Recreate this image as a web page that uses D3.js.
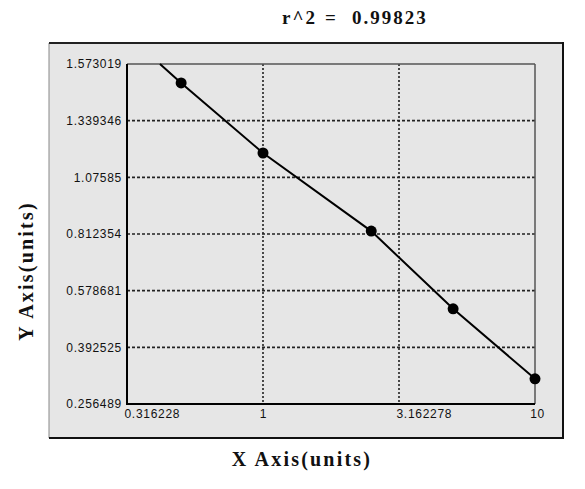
<!DOCTYPE html>
<html>
<head>
<meta charset="utf-8">
<script src="https://cdn.jsdelivr.net/npm/d3@7"></script>
<style>
  html, body { margin: 0; padding: 0; background: #ffffff; }
  svg { display: block; }
</style>
</head>
<body>
<svg id="chart" width="585" height="489"></svg>
<script>
// ---- data ----
const xTicks = [0.316228, 1, 3.162278, 10];
const xTickLabels = ["0.316228", "1", "3.162278", "10"];
const yTicks = [0.256489, 0.392525, 0.578681, 0.812354, 1.07585, 1.339346, 1.573019];
const yTickLabels = ["0.256489", "0.392525", "0.578681", "0.812354", "1.07585", "1.339346", "1.573019"];
const pointX = [0.5, 1, 2.5, 5, 10];
const pointY = [1.495, 1.189, 0.826, 0.519, 0.317];
const curveX = [0.418, 0.5, 1, 2.5, 5, 10];
const curveY = [1.573019, 1.495, 1.189, 0.826, 0.519, 0.317];
const titleParts = ["r^2", "=", "0.99823"];
const xLabel = "X Axis(units)";
const yLabel = "Y Axis(units)";

// ---- layout ----
const svg = d3.select("#chart");
const panel = { x: 49, y: 43, w: 514, h: 395 };
const plot = { left: 127, top: 64, right: 535, bottom: 404 };

const x = d3.scaleLog().domain([0.316228, 10]).range([plot.left, plot.right]);
const yRange = yTicks.map((d, i) => plot.bottom - i * (plot.bottom - plot.top) / (yTicks.length - 1));
const y = d3.scaleLinear().domain(yTicks).range(yRange);

// panel background
svg.append("rect")
  .attr("x", panel.x).attr("y", panel.y)
  .attr("width", panel.w).attr("height", panel.h)
  .attr("fill", "#e6e6e6");
// panel borders
svg.append("line").attr("x1", panel.x).attr("x2", panel.x).attr("y1", panel.y).attr("y2", panel.y + panel.h)
  .attr("stroke", "#888").attr("stroke-width", 1);
svg.append("line").attr("x1", panel.x).attr("x2", panel.x + panel.w).attr("y1", panel.y).attr("y2", panel.y)
  .attr("stroke", "#222").attr("stroke-width", 2);
svg.append("line").attr("x1", panel.x + panel.w).attr("x2", panel.x + panel.w).attr("y1", panel.y - 1).attr("y2", panel.y + panel.h + 1)
  .attr("stroke", "#111").attr("stroke-width", 2);
svg.append("line").attr("x1", panel.x).attr("x2", panel.x + panel.w + 1).attr("y1", panel.y + panel.h).attr("y2", panel.y + panel.h)
  .attr("stroke", "#111").attr("stroke-width", 2);

// grid lines
const g = svg.append("g");
g.selectAll("line.hgrid").data(yTicks.slice(1, -1)).enter().append("line")
  .attr("class", "hgrid")
  .attr("x1", plot.left).attr("x2", plot.right)
  .attr("y1", d => y(d)).attr("y2", d => y(d))
  .attr("stroke", "#222").attr("stroke-width", 1.6)
  .attr("stroke-dasharray", "3,2");
g.selectAll("line.vgrid").data(xTicks.slice(1, -1)).enter().append("line")
  .attr("class", "vgrid")
  .attr("x1", d => x(d)).attr("x2", d => x(d))
  .attr("y1", plot.top).attr("y2", plot.bottom)
  .attr("stroke", "#222").attr("stroke-width", 1.6)
  .attr("stroke-dasharray", "2,2");

// plot frame
svg.append("line").attr("x1", plot.left).attr("x2", plot.right).attr("y1", plot.top).attr("y2", plot.top)
  .attr("stroke", "#555").attr("stroke-width", 1.5);
svg.append("line").attr("x1", plot.right).attr("x2", plot.right).attr("y1", plot.top).attr("y2", plot.bottom)
  .attr("stroke", "#555").attr("stroke-width", 1.5);
svg.append("line").attr("x1", plot.left).attr("x2", plot.left).attr("y1", plot.top).attr("y2", plot.bottom + 1)
  .attr("stroke", "#000").attr("stroke-width", 2);
svg.append("line").attr("x1", plot.left - 1).attr("x2", plot.right).attr("y1", plot.bottom).attr("y2", plot.bottom)
  .attr("stroke", "#000").attr("stroke-width", 2);

const tickFont = "Liberation Sans, Arial, sans-serif";
// axes (labels only)
const yAxis = d3.axisLeft(y).tickValues(yTicks).tickSize(0).tickPadding(5)
  .tickFormat((d, i) => yTickLabels[i]);
const ya = svg.append("g").attr("transform", `translate(${plot.left},0)`).call(yAxis);
ya.select(".domain").remove();
ya.selectAll("text").attr("font-family", tickFont)
  .attr("font-size", 12).attr("letter-spacing", 0.7).attr("fill", "#111");

const xAxis = d3.axisBottom(x).tickValues(xTicks).tickSize(0).tickPadding(5)
  .tickFormat((d, i) => xTickLabels[i]);
const xa = svg.append("g").attr("transform", `translate(0,${plot.bottom})`).call(xAxis);
xa.select(".domain").remove();
xa.selectAll("text").attr("font-family", tickFont)
  .attr("font-size", 12).attr("letter-spacing", 0.7).attr("fill", "#111")
  .attr("text-anchor", (d, i) => (i === 0 || i === 2) ? "start" : "middle")
  .attr("dx", (d, i) => (i === 0 || i === 2) ? -3 : (i === xTicks.length - 1 ? 2 : 0));

// curve
const curveData = curveX.map((d, i) => [d, curveY[i]]);
svg.append("path")
  .datum(curveData)
  .attr("fill", "none").attr("stroke", "#000").attr("stroke-width", 2)
  .attr("d", d3.line().x(d => x(d[0])).y(d => y(d[1])).curve(d3.curveLinear));

// points
svg.selectAll("circle.pt").data(pointX.map((d, i) => [d, pointY[i]])).enter().append("circle")
  .attr("class", "pt")
  .attr("cx", d => x(d[0])).attr("cy", d => y(d[1]))
  .attr("r", 5.5).attr("fill", "#000");

const serif = "Liberation Serif, Times New Roman, serif";
// title
const title = svg.append("text").attr("y", 24)
  .attr("font-family", serif)
  .attr("font-size", 19).attr("font-weight", "bold").attr("fill", "#111")
  .attr("letter-spacing", 2);
const titleX = [282, 325, 352];
titleParts.forEach((t, i) => title.append("tspan").attr("x", titleX[i]).text(t));

// axis titles
svg.append("text").attr("x", 302).attr("y", 466).attr("text-anchor", "middle")
  .attr("font-family", serif)
  .attr("font-size", 20).attr("font-weight", "bold").attr("fill", "#111")
  .attr("letter-spacing", 2.2)
  .text(xLabel);
svg.append("text").attr("transform", "translate(33,271) rotate(-90)").attr("text-anchor", "middle")
  .attr("font-family", serif)
  .attr("font-size", 20).attr("font-weight", "bold").attr("fill", "#111")
  .attr("letter-spacing", 2.2)
  .text(yLabel);
</script>
</body>
</html>
